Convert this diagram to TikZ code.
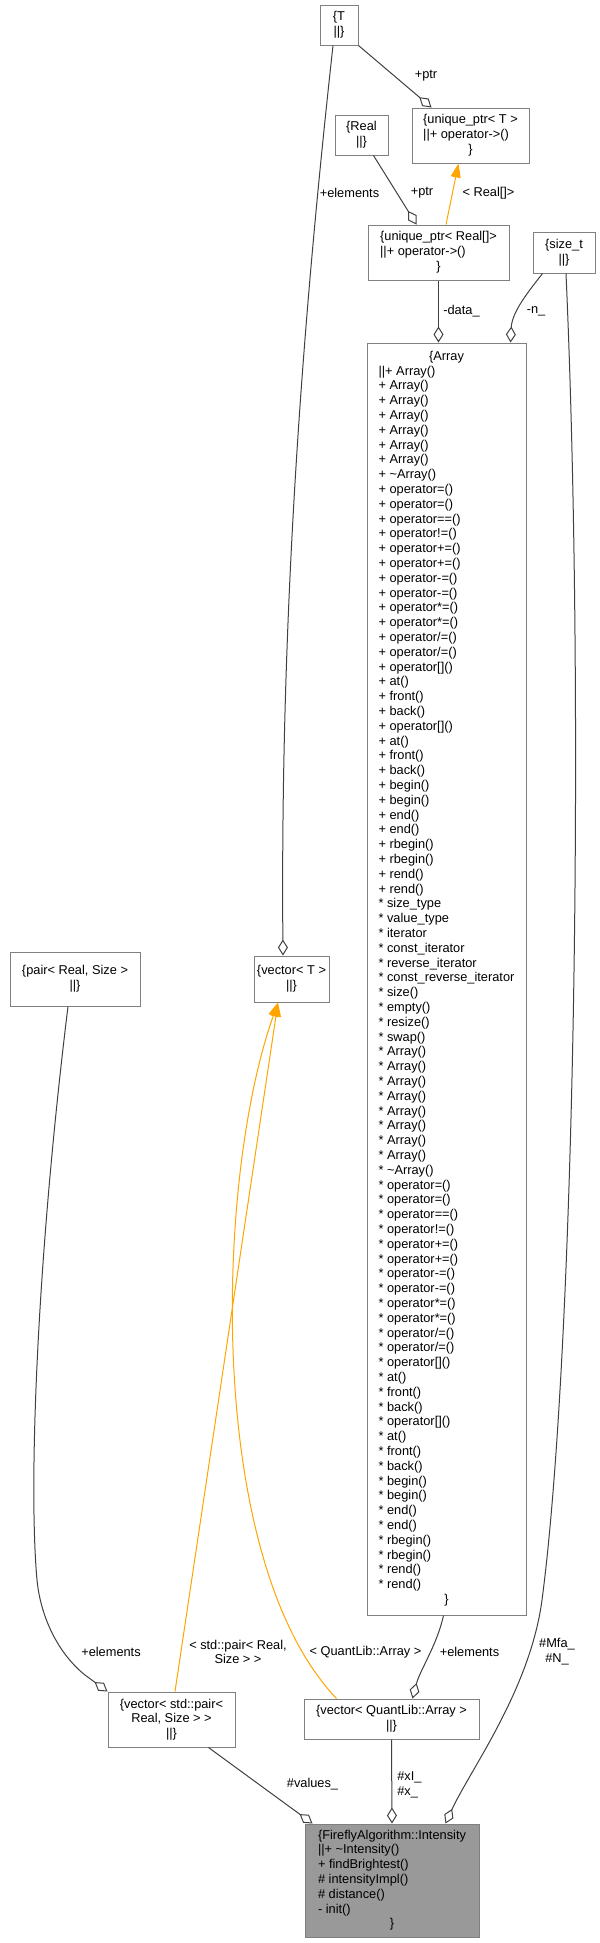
\documentclass[tikz,border=0pt]{standalone}
\usepackage{fontspec}
\setmainfont{Liberation Sans}
\usetikzlibrary{arrows.meta,calc}
\definecolor{boxline}{HTML}{808080}
\definecolor{edgegray}{HTML}{404040}
\definecolor{tplorange}{HTML}{FFA500}
\definecolor{mainfill}{HTML}{999999}
\newdimen\px \px=0.75pt
\newcommand{\umlfont}{\fontsize{9.6}{11.1}\selectfont}
\newcommand{\ctr}[1]{\multicolumn{1}{@{}c@{}}{#1}}
\tikzstyle{cls}=[draw=boxline,fill=white,line width=0.75pt,inner sep=0pt,font=\umlfont,align=center]
\tikzstyle{lbl}=[inner sep=0pt,font=\umlfont,align=center]
\tikzstyle{member}=[draw=edgegray,line width=0.75pt,-{Diamond[open,length=12pt,width=7.5pt]}]
\tikzstyle{tpl}=[draw=tplorange,line width=0.75pt,-{Triangle[length=10.5pt,width=7.5pt]}]

\begin{document}
\begin{tikzpicture}[x=0.75pt,y=-0.75pt]
    \useasboundingbox (0,0) rectangle (600,1943);
    % First we draw the classes
    \node[cls,minimum width=38\px,minimum height=40\px] (T) at (339,25) {\{T\\||\}};
    \node[cls,minimum width=117\px,minimum height=55\px] (uptrT) at (470.5,135.5)
        {\begin{tabular}{@{}l@{}}\ctr{\{unique\_ptr< T >}\\||+ operator->()\\\ctr{\}}\end{tabular}};
    \node[cls,minimum width=53\px,minimum height=40\px] (Real) at (361.5,135) {\{Real\\||\}};
    \node[cls,minimum width=141\px,minimum height=55\px] (uptrReal) at (438.5,252.5)
        {\begin{tabular}{@{}l@{}}\ctr{\{unique\_ptr< Real[]>}\\||+ operator->()\\\ctr{\}}\end{tabular}};
    \node[cls,minimum width=62\px,minimum height=41\px] (sizet) at (564,252.5) {\{size\_t\\||\}};
    \node[cls,minimum width=159\px,minimum height=1272\px] (array) at (446.5,979)
        {\begin{tabular}{@{}l@{}}\ctr{\{Array}\\
        ||+ Array()\\
        + Array()\\
        + Array()\\
        + Array()\\
        + Array()\\
        + Array()\\
        + Array()\\
        + \textasciitilde Array()\\
        + operator=()\\
        + operator=()\\
        + operator==()\\
        + operator!=()\\
        + operator+=()\\
        + operator+=()\\
        + operator-=()\\
        + operator-=()\\
        + operator*=()\\
        + operator*=()\\
        + operator/=()\\
        + operator/=()\\
        + operator[]()\\
        + at()\\
        + front()\\
        + back()\\
        + operator[]()\\
        + at()\\
        + front()\\
        + back()\\
        + begin()\\
        + begin()\\
        + end()\\
        + end()\\
        + rbegin()\\
        + rbegin()\\
        + rend()\\
        + rend()\\
        {*} size\_type\\
        {*} value\_type\\
        {*} iterator\\
        {*} const\_iterator\\
        {*} reverse\_iterator\\
        {*} const\_reverse\_iterator\\
        {*} size()\\
        {*} empty()\\
        {*} resize()\\
        {*} swap()\\
        {*} Array()\\
        {*} Array()\\
        {*} Array()\\
        {*} Array()\\
        {*} Array()\\
        {*} Array()\\
        {*} Array()\\
        {*} Array()\\
        {*} \textasciitilde Array()\\
        {*} operator=()\\
        {*} operator=()\\
        {*} operator==()\\
        {*} operator!=()\\
        {*} operator+=()\\
        {*} operator+=()\\
        {*} operator-=()\\
        {*} operator-=()\\
        {*} operator*=()\\
        {*} operator*=()\\
        {*} operator/=()\\
        {*} operator/=()\\
        {*} operator[]()\\
        {*} at()\\
        {*} front()\\
        {*} back()\\
        {*} operator[]()\\
        {*} at()\\
        {*} front()\\
        {*} back()\\
        {*} begin()\\
        {*} begin()\\
        {*} end()\\
        {*} end()\\
        {*} rbegin()\\
        {*} rbegin()\\
        {*} rend()\\
        {*} rend()\\
        \ctr{\}}\end{tabular}};
    \node[cls,minimum width=130\px,minimum height=54\px] (pair) at (75,979) {\{pair< Real, Size >\\||\}};
    \node[cls,minimum width=75\px,minimum height=46\px] (vecT) at (291.5,979) {\{vector< T >\\||\}};
    \node[cls,minimum width=127\px,minimum height=55\px] (vecPair) at (171.5,1719.5)
        {\{vector< std::pair<\\Real, Size > >\\||\}};
    \node[cls,minimum width=175\px,minimum height=40\px] (vecArr) at (391.5,1719)
        {\{vector< QuantLib::Array >\\||\}};
    \node[cls,fill=mainfill,minimum width=174\px,minimum height=113\px] (intensity) at (392,1880.5)
        {\begin{tabular}{@{}l@{}}\{FireflyAlgorithm::Intensity\\||+ \textasciitilde Intensity()\\
        + findBrightest()\\\# intensityImpl()\\\# distance()\\- init()\\\ctr{\}}\end{tabular}};

    % Connect classes with members and template instances
    \path[member] (T.south east) -- ($(uptrT.north west)+(20,0)$);
    \path[member] ($(Real.south)+(12,0)$) -- ($(uptrReal.north west)+(49,0)$);
    \path[tpl] ($(uptrReal.north)+(7.5,0)$) -- ($(uptrT.south west)+(47,0)$);
    \path[member] (uptrReal.south) -- ($(array.north)+(-8,0)$);
    \path[member] ($(sizet.south west)+(10,0)$) .. controls (528,292) and (512,312) .. ($(array.north east)+(-16,0)$);
    \path[member] ($(sizet.south)+(2,0)$) .. controls (585,700) and (575,1350) .. (542,1600)
        .. controls (530,1690) and (470,1770) .. ($(intensity.north east)+(-34,0)$);
    \path[member] ($(T.south)+(-6,0)$) .. controls (305,300) and (280,600) .. ($(vecT.north)+(-8.5,0)$);
    \path[member] ($(pair.south)+(-7,0)$) .. controls (38,1250) and (28,1480) .. (37,1580)
        .. controls (41,1620) and (60,1655) .. (85,1675) -- (vecPair.north west);
    \path[tpl] ($(vecPair.north)+(3.5,0)$) -- ($(vecT.south)+(-13.5,0)$);
    \path[tpl] ($(vecArr.north west)+(33,0)$) .. controls (205,1560) and (215,1180) .. ($(vecT.south)+(-13.5,0)$);
    \path[member] ($(array.south)+(-3,0)$) .. controls (437,1645) and (420,1670) .. ($(vecArr.north)+(21,0)$);
    \path[member] ($(vecPair.south east)+(-27,0)$) -- ($(intensity.north west)+(8,0)$);
    \path[member] (vecArr.south) -- (intensity.north);

    % Edge labels
    \node[lbl] (ptrT) at (426,76) {+ptr};
    \node[lbl] (elemT) at (349.5,193) {+elements};
    \node[lbl] (ptrReal) at (422,193) {+ptr};
    \node[lbl] (tplReal) at (488.5,193) {< Real[]>};
    \node[lbl] (dataArr) at (461.5,311) {-data\_};
    \node[lbl] (nArr) at (536,311) {-n\_};
    \node[lbl] (elemPair) at (111,1652) {+elements};
    \node[lbl] (tplPair) at (238,1652) {< std::pair< Real,\\Size > >};
    \node[lbl] (tplArr) at (365.5,1652) {< QuantLib::Array >};
    \node[lbl] (elemArr) at (469.5,1652) {+elements};
    \node[lbl] (mfaN) at (557,1652) {\#Mfa\_\\\#N\_};
    \node[lbl] (valuesI) at (312.5,1784) {\#values\_};
    \node[lbl,align=left,anchor=west] (xIx) at (397,1784.5) {\#xI\_\\\#x\_};
\end{tikzpicture}
\end{document}
